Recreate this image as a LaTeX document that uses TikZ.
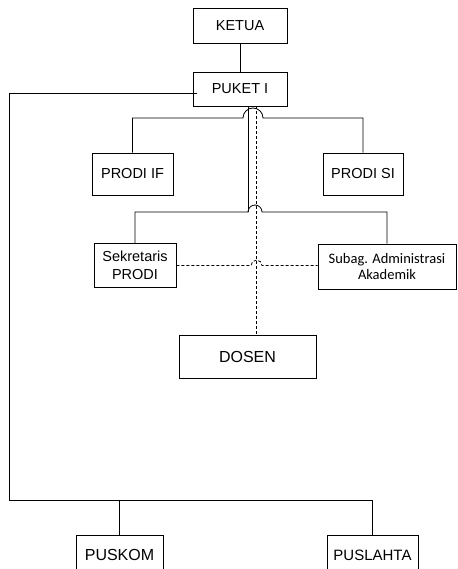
\documentclass[tikz,border=0pt]{standalone}
\usepackage{fontspec}
\setmainfont{Liberation Sans}
\newfontfamily\subagfont{Carlito}
\usetikzlibrary{positioning,calc}

\begin{document}
\begin{tikzpicture}[x=1pt,y=-1pt,
  box/.style={rectangle,draw,line width=0.8pt,inner sep=2pt,
              font=\fontsize{14.5}{17}\selectfont,align=center},
  link/.style={line width=0.8pt},
  dlink/.style={line width=0.8pt,dash pattern=on 3pt off 2pt}
]
  \useasboundingbox (0,0) rectangle (457,569);
  \clip (0,0) rectangle (457,569);

  % ---- Top of the chart --------------------------------------
  \node[box,minimum width=94,minimum height=35] (ketua) at (240,25.5) {KETUA};
  \node[box,minimum width=94,minimum height=34] (puket) at (240,89) {PUKET I};

  % ---- Programmes --------------------------------------------
  \node[box,minimum width=81,minimum height=42] (prodiif) at (132.5,174) {PRODI IF};
  \node[box,minimum width=80,minimum height=42] (prodisi) at (363,174) {PRODI SI};

  % ---- Staff -------------------------------------------------
  \node[box,minimum width=82,minimum height=44,
        font=\fontsize{14.5}{18}\selectfont] (sekretaris) at (135,265.5)
    {Sekretaris\\PRODI};
  \node[box,minimum width=138,minimum height=45,
        font=\subagfont\fontsize{14.5}{15.5}\selectfont] (subag) at (387,266.5)
    {Subag. Administrasi\\Akademik};
  \node[box,minimum width=137,minimum height=43,
        font=\fontsize{16}{19}\selectfont] (dosen) at (247.5,356.5) {DOSEN};

  % ---- Bottom units (cut off by the page) --------------------
  \node[box,minimum width=87,minimum height=40,
        font=\fontsize{16}{19}\selectfont] (puskom) at (119.5,555) {PUSKOM};
  \node[box,minimum width=91,minimum height=40,
        font=\fontsize{15}{18}\selectfont] (puslahta) at (372.5,555) {PUSLAHTA};

  % ---- Helper points -----------------------------------------
  \coordinate (solid) at ($(puket.south)+(8,0)$);
  \coordinate (dash) at (256.5,0);
  \coordinate (bus) at (9,500);

  % ---- Solid lines -------------------------------------------
  \draw[link] (ketua.south) -- (puket.north);
  \draw[link] (solid) -- (solid |- 0,212);
  % 1. PUKET I to both PRODI, hop over the dashed line
  \draw[link] (prodiif.north) |- (243,118)
    arc[start angle=180,end angle=0,radius=10pt]
    -| (prodisi.north);
  % 2. PUKET I to Sekretaris and Subag
  \draw[link] (sekretaris.north) |- (248,212)
    arc[start angle=180,end angle=0,radius=7pt]
    -| (subag.north);
  % 3. PUKET I round the left side to PUSKOM and PUSLAHTA
  \draw[link] ($(puket.west)+(4,4)$) -| (bus) -| (puslahta.north);
  \draw[link] (puskom.north) -- (puskom.north |- bus);

  % ---- Dashed lines ------------------------------------------
  \draw[dlink] (dash |- puket.south) -- (dash |- dosen.north);
  \draw[dlink] (sekretaris.east) -- (251,265.5)
    arc[start angle=180,end angle=0,radius=5.5pt]
    -- (subag.west |- sekretaris.east);

\end{tikzpicture}
\end{document}
